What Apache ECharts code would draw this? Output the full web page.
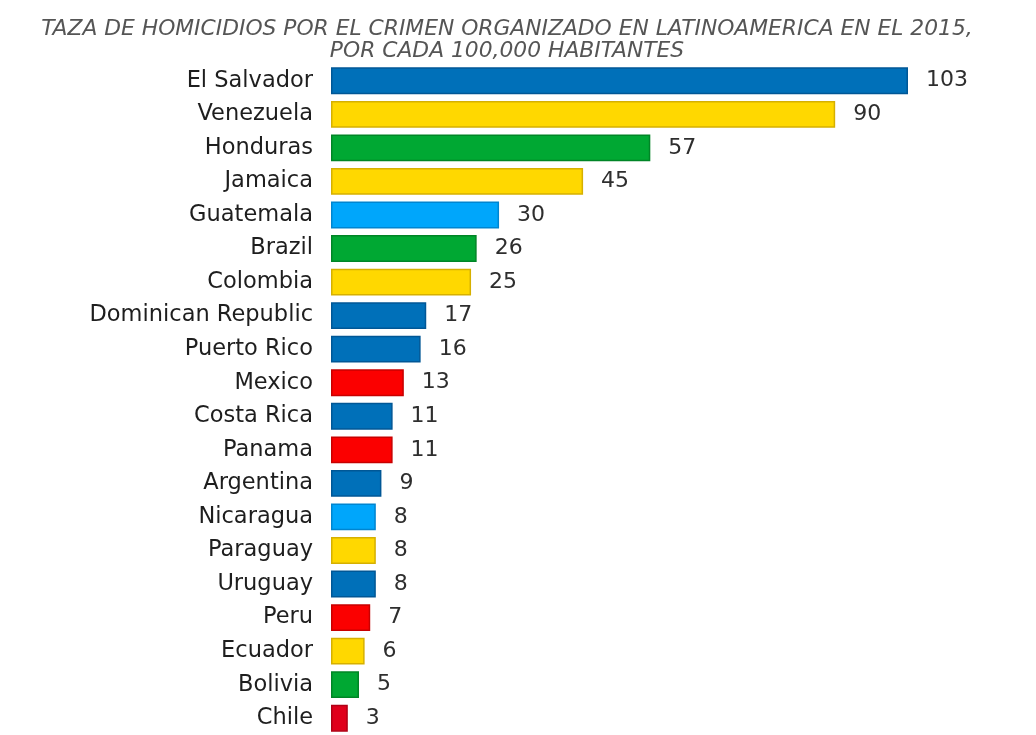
<!DOCTYPE html>
<html>
<head>
<meta charset="utf-8">
<script src="https://cdn.jsdelivr.net/npm/echarts@6/dist/echarts.min.js"></script>
<style>
  html, body { margin: 0; padding: 0; background: #fff; }
  #chart { width: 1036px; height: 735px; }
</style>
</head>
<body>
<div id="chart"></div>
<script>
// data, top to bottom
const countries = ['El Salvador', 'Venezuela', 'Honduras', 'Jamaica', 'Guatemala', 'Brazil',
  'Colombia', 'Dominican Republic', 'Puerto Rico', 'Mexico', 'Costa Rica', 'Panama',
  'Argentina', 'Nicaragua', 'Paraguay', 'Uruguay', 'Peru', 'Ecuador', 'Bolivia', 'Chile'];
const rates = [103, 90, 57, 45, 30, 26, 25, 17, 16, 13, 11, 11, 9, 8, 8, 8, 7, 6, 5, 3];
const barColors = ['blue', 'yellow', 'green', 'yellow', 'sky', 'green', 'yellow', 'blue',
  'blue', 'red', 'blue', 'red', 'blue', 'sky', 'yellow', 'blue', 'red', 'yellow', 'green', 'darkred'];

const palette = {
  blue: ['#0070b9', '#005796'],
  yellow: ['#ffd800', '#d6b000'],
  green: ['#00a833', '#008526'],
  sky: ['#00a6fb', '#0085d0'],
  red: ['#fb0000', '#c80000'],
  darkred: ['#e0001b', '#b00015']
};

const chart = echarts.init(document.getElementById('chart'), null, { renderer: 'canvas' });

// category axis is drawn bottom to top, so reverse for display
const cats = countries.slice().reverse();
const items = rates.map((v, i) => ({
  value: v,
  itemStyle: { color: palette[barColors[i]][0], borderColor: palette[barColors[i]][1], borderWidth: 1.5 }
})).reverse();

chart.setOption({
  animation: false,
  title: {
    text: 'TAZA DE HOMICIDIOS POR EL CRIMEN ORGANIZADO EN LATINOAMERICA EN EL 2015,\nPOR CADA 100,000 HABITANTES',
    left: 502,
    top: 13,
    textAlign: 'center',
    textStyle: {
      fontFamily: 'DejaVu Sans',
      fontStyle: 'italic',
      fontWeight: 'normal',
      fontSize: 21.8,
      lineHeight: 22,
      color: '#555'
    }
  },
  grid: { left: 331, top: 64, width: 577, height: 673, containLabel: false },
  xAxis: {
    type: 'value',
    min: 0,
    max: 103,
    show: false
  },
  yAxis: {
    type: 'category',
    data: cats,
    axisLine: { show: false },
    axisTick: { show: false },
    axisLabel: {
      margin: 18,
      fontFamily: 'DejaVu Sans',
      fontSize: 22.5,
      color: '#1e1e1e'
    }
  },
  series: [{
    type: 'bar',
    data: items,
    barCategoryGap: '20%',
    label: {
      show: true,
      position: 'right',
      distance: 18,
      fontFamily: 'DejaVu Sans',
      fontSize: 22,
      color: '#2e2e2e'
    }
  }]
});
</script>
</body>
</html>
